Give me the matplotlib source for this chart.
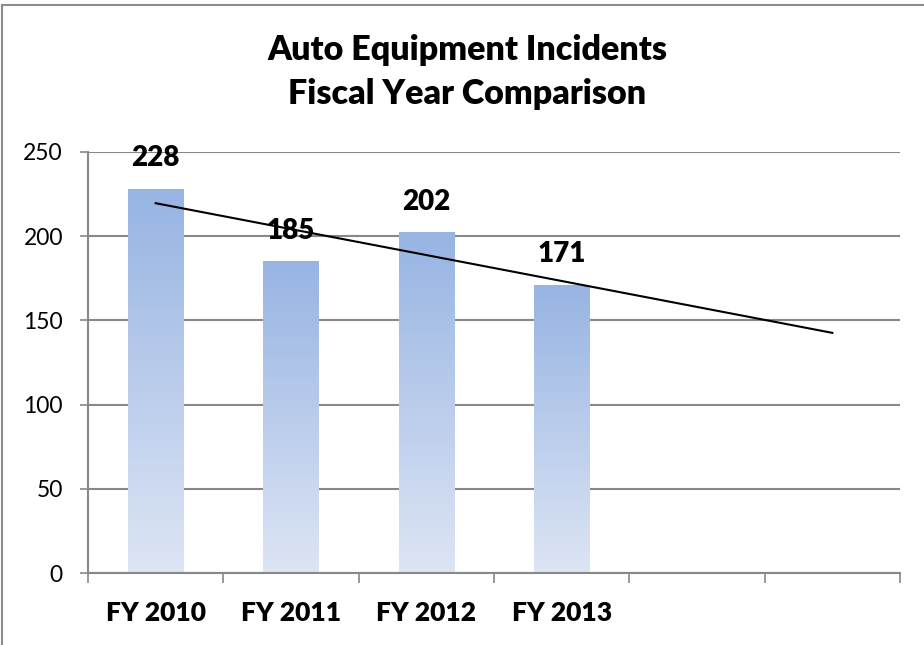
import numpy as np
import matplotlib
matplotlib.use("Agg")
import matplotlib.pyplot as plt
from matplotlib.lines import Line2D
from matplotlib.colors import LinearSegmentedColormap

# Incident counts per fiscal year
years = ["FY 2010", "FY 2011", "FY 2012", "FY 2013"]
incidents = [228, 185, 202, 171]
n_slots = 6  # category axis leaves room for two more years

plt.rcParams['font.family'] = ['Lato', 'DejaVu Sans']

fig = plt.figure(figsize=(9.24, 6.45), dpi=100)
ax = fig.add_axes([88 / 924, 72 / 645, 812 / 924, 421 / 645])

x = np.arange(len(incidents))
bar_w = 0.41

# bars carry a vertical gradient, dark at the top fading to pale at the base
cmap = LinearSegmentedColormap.from_list("bar", ["#DDE5F4", "#97B4E3"])
grad = np.linspace(0, 1, 256).reshape(-1, 1)
bars = ax.bar(x, incidents, width=bar_w, color="none", zorder=2)
for b in bars:
    x0, w, h = b.get_x(), b.get_width(), b.get_height()
    ax.imshow(grad, cmap=cmap, origin="lower", aspect="auto",
              extent=[x0, x0 + w, 0, h], zorder=2)

# value labels
for xi, v in zip(x, incidents):
    ax.annotate(str(v), (xi, v), xytext=(0, 22), textcoords="offset points",
                ha="center", va="center", fontsize=20, fontweight="heavy")

# linear trend projected over all six slots
coef = np.polyfit(x, incidents, 1)
tx = np.array([0, n_slots - 1])
ax.plot(tx, np.polyval(coef, tx), color="black", lw=1.5, zorder=3)

ax.set_xlim(-0.5, n_slots - 0.5)
ax.set_ylim(0, 250)
ax.set_yticks(range(0, 251, 50))
ax.yaxis.grid(True, color="#888888", lw=1.5)
ax.set_axisbelow(True)

ax.set_xticks(np.arange(-0.5, n_slots, 1))
ax.set_xticklabels([])
ax.set_xticks(x, minor=True)
ax.set_xticklabels(years, minor=True, fontsize=19, fontweight="heavy")
ax.tick_params(axis="x", which="major", direction="out", length=7.5,
               width=1.2, color="#888888")
ax.tick_params(axis="x", which="minor", length=0, pad=20)
ax.tick_params(axis="y", direction="out", length=6, width=1.2,
               color="#888888", labelsize=16.5, pad=12)

for side in ["top", "right"]:
    ax.spines[side].set_visible(False)
for side in ["left", "bottom"]:
    ax.spines[side].set_color("#888888")
    ax.spines[side].set_linewidth(1.5)

fig.text(467 / 924, 1 - 50 / 645, "Auto Equipment Incidents", ha="center",
         va="center", fontsize=24.5, fontweight="heavy")
fig.text(467 / 924, 1 - 94 / 645, "Fiscal Year Comparison", ha="center",
         va="center", fontsize=24.5, fontweight="heavy")

# chart frame, top and left edges
fig.add_artist(Line2D([2 / 924, 2 / 924], [0, 1 - 5 / 645],
                      transform=fig.transFigure, color="#8C8C8C", lw=1.5))
fig.add_artist(Line2D([2 / 924, 1], [1 - 5 / 645, 1 - 5 / 645],
                      transform=fig.transFigure, color="#8C8C8C", lw=1.5))

fig.savefig("out.png", dpi=100)
